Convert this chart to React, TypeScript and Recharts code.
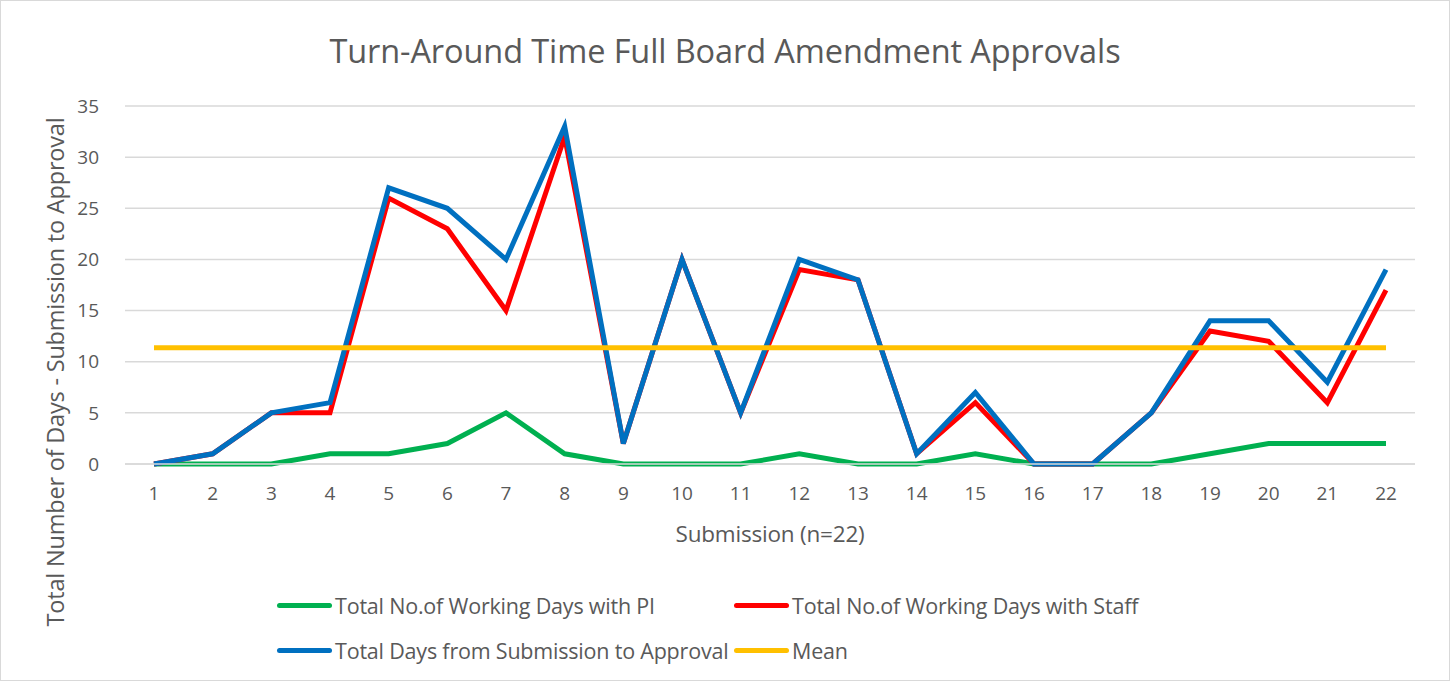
import { CartesianGrid, Line, LineChart, XAxis, YAxis } from "recharts";

const submissions = [
    "1", "2", "3", "4", "5", "6", "7", "8", "9", "10", "11",
    "12", "13", "14", "15", "16", "17", "18", "19", "20", "21", "22",
]
const daysWithPI = [0, 0, 0, 1, 1, 2, 5, 1, 0, 0, 0, 1, 0, 0, 1, 0, 0, 0, 1, 2, 2, 2]
const daysWithStaff = [0, 1, 5, 5, 26, 23, 15, 32, 2, 20, 5, 19, 18, 1, 6, 0, 0, 5, 13, 12, 6, 17]
const totalDays = [0, 1, 5, 6, 27, 25, 20, 33, 2, 20, 5, 20, 18, 1, 7, 0, 0, 5, 14, 14, 8, 19]
const meanDays = [
    11.36, 11.36, 11.36, 11.36, 11.36, 11.36, 11.36, 11.36, 11.36, 11.36, 11.36,
    11.36, 11.36, 11.36, 11.36, 11.36, 11.36, 11.36, 11.36, 11.36, 11.36, 11.36,
]
const yTicks = [0, 5, 10, 15, 20, 25, 30, 35]

const seriesInfo = [
    { key: "pi", name: "Total No.of Working Days with PI", color: "#00b050" },
    { key: "staff", name: "Total No.of Working Days with Staff", color: "#ff0000" },
    { key: "total", name: "Total Days from Submission to Approval", color: "#0070c0" },
    { key: "mean", name: "Mean", color: "#ffc000" },
]

const data = submissions.map((s, i) => ({
    submission: s,
    pi: daysWithPI[i],
    staff: daysWithStaff[i],
    total: totalDays[i],
    mean: meanDays[i],
}))

const font = "'Open Sans', Calibri, sans-serif"
const textColor = "#595959"

function LegendItem({ name, color, left, top }: { name: string; color: string; left: number; top: number }) {
    return (
        <div style={{ position: "absolute", left, top, display: "flex", alignItems: "center", height: 26 }}>
            <div style={{ width: 55, height: 5, borderRadius: 3, backgroundColor: color, marginRight: 3 }} />
            <span style={{ fontSize: 21.5, color: textColor, whiteSpace: "nowrap", letterSpacing: -0.2 }}>{name}</span>
        </div>
    )
}

export default function App() {
    const legendPos = [
        { left: 277, top: 592 },
        { left: 734, top: 592 },
        { left: 277, top: 637 },
        { left: 734, top: 637 },
    ]
    return (
        <div style={{ position: "relative", width: 1450, height: 681, fontFamily: font, background: "#fff" }}>
            <style>{`body{margin:0}`}</style>
            <div style={{ position: "absolute", inset: 0, border: "1px solid #d9d9d9", boxSizing: "border-box" }} />
            <div style={{ position: "absolute", top: 28, left: 0, width: 1450, textAlign: "center", fontSize: 32.5, color: textColor, letterSpacing: -0.1 }}>
                Turn-Around Time Full Board Amendment Approvals
            </div>
            <LineChart
                width={1450}
                height={681}
                data={data}
                margin={{ top: 106, right: 35, left: 65, bottom: 187 }}
            >
                <CartesianGrid vertical={false} stroke="#d9d9d9" strokeWidth={1.5} />
                <XAxis
                    dataKey="submission"
                    padding={{ left: 29, right: 29 }}
                    stroke="#d9d9d9"
                    strokeWidth={1.5}
                    tickLine={false}
                    tick={{ fill: textColor, fontSize: 19, fontFamily: font }}
                    tickMargin={17}
                />
                <YAxis
                    width={60}
                    domain={[0, 35]}
                    ticks={yTicks}
                    axisLine={false}
                    tickLine={false}
                    tick={{ fill: textColor, fontSize: 19, fontFamily: font }}
                    tickMargin={20}
                />
                {seriesInfo.map((s) => (
                    <Line
                        key={s.key}
                        type="linear"
                        dataKey={s.key}
                        name={s.name}
                        stroke={s.color}
                        strokeWidth={5}
                        dot={false}
                        isAnimationActive={false}
                    />
                ))}
            </LineChart>
            <div style={{ position: "absolute", top: 518, left: 0, width: 1540, textAlign: "center", fontSize: 22.5, color: textColor, letterSpacing: -0.2 }}>
                Submission (n=22)
            </div>
            <div
                style={{
                    position: "absolute",
                    left: 55,
                    top: 372,
                    transform: "translate(-50%, -50%) rotate(-90deg)",
                    fontSize: 23.5,
                    color: textColor,
                    whiteSpace: "nowrap",
                    letterSpacing: -0.2,
                }}
            >
                Total Number of Days - Submission to Approval
            </div>
            {seriesInfo.map((s, i) => (
                <LegendItem key={s.key} name={s.name} color={s.color} left={legendPos[i].left} top={legendPos[i].top} />
            ))}
        </div>
    )
}
